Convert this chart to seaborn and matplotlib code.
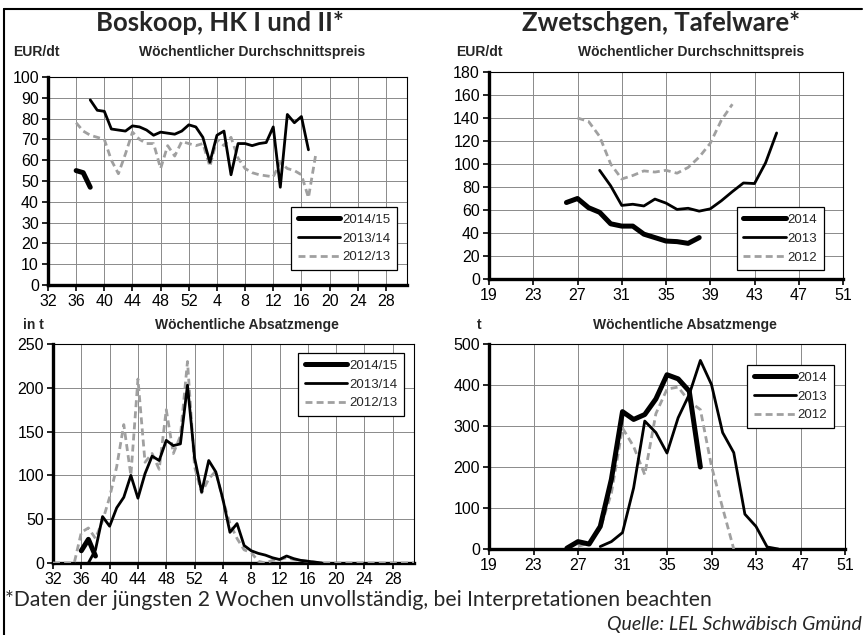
import matplotlib
matplotlib.use('Agg')
import matplotlib.pyplot as plt
import seaborn as sns
import pandas as pd
from matplotlib.lines import Line2D

# ---------------- Daten: Boskoop (Saison KW 32 .. KW 31) ----------------
bos_preis_1415_wochen = [36, 37, 38]
bos_preis_1415 = [55, 54, 47]
bos_preis_1314_wochen = [38, 39, 40, 41, 42, 43, 44, 45, 46, 47, 48, 49, 50, 51, 52,
                         1, 2, 3, 4, 5, 6, 7, 8, 9, 10, 11, 12, 13, 14, 15, 16, 17]
bos_preis_1314 = [89, 84, 83.5, 75, 74.5, 74, 76.5, 76, 74.5, 72, 73.5, 73, 72.5, 74, 77,
                  76, 71, 59, 72, 74, 53, 68, 68, 67, 68, 68.5, 76, 47, 82, 78, 81, 65]
bos_preis_1213_wochen = [36, 37, 38, 39, 40, 41, 42, 43, 44, 45, 46, 47, 48, 49, 50, 51, 52,
                         1, 2, 3, 4, 5, 6, 7, 8, 9, 10, 11, 12, 13, 14, 15, 16, 17, 18]
bos_preis_1213 = [78, 74, 72, 71, 70, 60, 53.5, 63, 73.5, 70, 68, 68, 56, 67, 62, 69, 68,
                  67, 68, 57, 70, 67, 71, 61, 56, 54, 53, 52.5, 52, 59, 56, 55, 53, 42, 62]

bos_menge_1415_wochen = [36, 37, 38]
bos_menge_1415 = [14, 27, 8]
bos_menge_1314_wochen = [37, 38, 39, 40, 41, 42, 43, 44, 45, 46, 47, 48, 49, 50, 51, 52,
                         1, 2, 3, 4, 5, 6, 7, 8, 9, 10, 11, 12, 13, 14, 15, 16, 17, 18]
bos_menge_1314 = [0, 15, 53, 42, 63, 75, 100, 74, 102, 122, 117, 140, 134, 136, 203, 120,
                  81, 117, 104, 73, 35, 45, 20, 14, 11, 9, 6, 4, 8, 5, 3, 2, 1, 0]
bos_menge_1213_wochen = [32, 33, 34, 35, 36, 37, 38, 39, 40, 41, 42, 43, 44, 45, 46, 47, 48,
                         49, 50, 51, 52, 1, 2, 3, 4, 5, 6, 7, 8, 9, 10, 11, 12, 13, 14, 15,
                         16, 17, 18, 19, 20, 21, 22, 23, 24, 25, 26, 27, 28, 29, 30, 31]
bos_menge_1213 = [0, 0, 0, 0, 35, 40, 28, 48, 75, 110, 158, 100, 210, 115, 125, 107, 175,
                  125, 145, 230, 110, 80, 96, 105, 72, 45, 28, 15, 12, 2, 0, 3, 4, 6, 4, 3,
                  2, 1, 0, 0, 0, 0, 0, 0, 0, 0, 0, 0, 0, 0, 0, 0]

# ---------------- Daten: Zwetschgen (KW) ----------------
zw_preis_2014_wochen = [26, 27, 28, 29, 30, 31, 32, 33, 34, 35, 36, 37, 38]
zw_preis_2014 = [66.5, 70, 62, 58, 48, 46, 46, 39, 36, 33, 32.5, 31, 36]
zw_preis_2013_wochen = [29, 30, 31, 32, 33, 34, 35, 36, 37, 38, 39, 40, 41, 42, 43, 44, 45]
zw_preis_2013 = [94.5, 81, 64, 65, 63.5, 69.5, 66, 60.5, 61.5, 59, 61, 68, 76, 83.5, 83, 101, 127]
zw_preis_2012_wochen = [27, 28, 29, 30, 31, 32, 33, 34, 35, 36, 37, 38, 39, 40, 41]
zw_preis_2012 = [140, 137, 124, 100, 87, 90, 94, 93, 94.5, 92, 97, 106, 118, 138, 152]

zw_menge_2014_wochen = [26, 27, 28, 29, 30, 31, 32, 33, 34, 35, 36, 37, 38]
zw_menge_2014 = [2, 18, 12, 55, 170, 335, 316, 328, 366, 425, 415, 385, 200]
zw_menge_2013_wochen = [29, 30, 31, 32, 33, 34, 35, 36, 37, 38, 39, 40, 41, 42, 43, 44, 45]
zw_menge_2013 = [6, 18, 40, 149, 312, 284, 234, 320, 377, 460, 401, 284, 235, 85, 55, 5, 0]
zw_menge_2012_wochen = [27, 28, 29, 30, 31, 32, 33, 34, 35, 36, 37, 38, 39, 40, 41]
zw_menge_2012 = [6, 15, 50, 136, 295, 250, 181, 330, 390, 395, 360, 340, 202, 100, 0]

saison_ticks = [32, 36, 40, 44, 48, 52, 56, 60, 64, 68, 72, 76, 80]
saison_labels = [str((t - 1) % 52 + 1) for t in saison_ticks]
kw_ticks = [19, 23, 27, 31, 35, 39, 43, 47, 51]

sns.set_style('white')
plt.rcParams['font.family'] = ['Liberation Sans', 'DejaVu Sans']

W, H = 865, 635
GRAU = '#a0a0a0'
DASH = (0, (2.5, 1.5))


def saison_pos(wochen):
    # KW 1..31 gehoeren zum Folgejahr der Saison
    return [w if w >= 32 else w + 52 for w in wochen]


def px(x, y):
    return x / W, 1 - y / H


def ax_at(fig, left, top, width, height):
    return fig.add_axes([left / W, 1 - (top + height) / H, width / W, height / H])


def linie(ax, x, y, label, art):
    df = pd.DataFrame({'x': x, 'y': y})
    if art == 'dick':
        sns.lineplot(data=df, x='x', y='y', ax=ax, color='black', linewidth=3.6,
                     label=label, sort=False, zorder=4, solid_joinstyle='round',
                     solid_capstyle='round')
    elif art == 'duenn':
        sns.lineplot(data=df, x='x', y='y', ax=ax, color='black', linewidth=2.0,
                     label=label, sort=False, zorder=3.5, solid_joinstyle='round',
                     solid_capstyle='round')
    else:
        sns.lineplot(data=df, x='x', y='y', ax=ax, color=GRAU, linewidth=2.0,
                     linestyle=DASH, label=label, sort=False, zorder=3)


def gestalten(ax, xlim, xticks, xlabels, ylim, yticks):
    ax.set_xlim(xlim)
    ax.set_ylim(ylim)
    ax.set_xticks(xticks)
    ax.set_xticklabels(xlabels)
    ax.set_yticks(yticks)
    ax.grid(True, color='#8a8a8a', linewidth=0.7)
    ax.set_axisbelow(True)
    for s in ['top', 'right']:
        ax.spines[s].set_linewidth(0.8)
        ax.spines[s].set_color('black')
    for s in ['left', 'bottom']:
        ax.spines[s].set_linewidth(2.4)
        ax.spines[s].set_color('black')
    ax.tick_params(direction='out', length=4, width=1.2, labelsize=11.5, pad=2.5,
                   bottom=True, left=True, colors='black')
    ax.set_xlabel('')
    ax.set_ylabel('')


def legende(ax, loc, anchor):
    handles, labels = ax.get_legend_handles_labels()
    order = [2, 1, 0]
    leg = ax.legend([handles[i] for i in order], [labels[i] for i in order],
                    loc=loc, bbox_to_anchor=anchor, frameon=True, fancybox=False,
                    framealpha=1, edgecolor='black', fontsize=9.5, handlelength=3.2,
                    handletextpad=0.15, labelspacing=0.5, borderpad=0.5,
                    borderaxespad=0)
    leg.get_frame().set_linewidth(0.9)
    leg.set_zorder(6)


fig = plt.figure(figsize=(W / 100, H / 100), dpi=100)

# ---- oben links: Boskoop Preis ----
ax1 = ax_at(fig, 48, 77, 359, 208)
linie(ax1, saison_pos(bos_preis_1213_wochen), bos_preis_1213, '2012/13', 'grau')
linie(ax1, saison_pos(bos_preis_1314_wochen), bos_preis_1314, '2013/14', 'duenn')
linie(ax1, saison_pos(bos_preis_1415_wochen), bos_preis_1415, '2014/15', 'dick')
gestalten(ax1, (32, 83), saison_ticks, saison_labels, (0, 100), range(0, 101, 10))
legende(ax1, 'lower right', (0.972, 0.072))

# ---- oben rechts: Zwetschgen Preis ----
ax2 = ax_at(fig, 489, 72, 354, 207)
linie(ax2, zw_preis_2012_wochen, zw_preis_2012, '2012', 'grau')
linie(ax2, zw_preis_2013_wochen, zw_preis_2013, '2013', 'duenn')
linie(ax2, zw_preis_2014_wochen, zw_preis_2014, '2014', 'dick')
gestalten(ax2, (19, 51), kw_ticks, [str(t) for t in kw_ticks], (0, 180), range(0, 181, 20))
legende(ax2, 'lower right', (0.946, 0.043))

# ---- unten links: Boskoop Menge ----
ax3 = ax_at(fig, 53, 344, 361, 219)
linie(ax3, saison_pos(bos_menge_1213_wochen), bos_menge_1213, '2012/13', 'grau')
linie(ax3, saison_pos(bos_menge_1314_wochen), bos_menge_1314, '2013/14', 'duenn')
linie(ax3, saison_pos(bos_menge_1415_wochen), bos_menge_1415, '2014/15', 'dick')
gestalten(ax3, (32, 83), saison_ticks, saison_labels, (0, 250), range(0, 251, 50))
legende(ax3, 'upper right', (0.972, 0.959))

# ---- unten rechts: Zwetschgen Menge ----
ax4 = ax_at(fig, 489, 344, 356, 205)
linie(ax4, zw_menge_2012_wochen, zw_menge_2012, '2012', 'grau')
linie(ax4, zw_menge_2013_wochen, zw_menge_2013, '2013', 'duenn')
linie(ax4, zw_menge_2014_wochen, zw_menge_2014, '2014', 'dick')
gestalten(ax4, (19, 51), kw_ticks, [str(t) for t in kw_ticks], (0, 500), range(0, 501, 100))
legende(ax4, 'upper right', (0.969, 0.898))

# ---- Texte ----
titel = dict(fontsize=18.5, fontweight='bold', family=['Lato', 'DejaVu Sans'],
             ha='center', va='baseline')
fig.text(*px(220, 31), 'Boskoop, HK I und II*', **titel)
fig.text(*px(661, 31), 'Zwetschgen, Tafelware*', **titel)

klein = dict(fontsize=10, fontweight='bold', va='center')
fig.text(*px(13, 52), 'EUR/dt', ha='left', **klein)
fig.text(*px(252, 52), 'Wöchentlicher Durchschnittspreis', ha='center', **klein)
fig.text(*px(456, 52), 'EUR/dt', ha='left', **klein)
fig.text(*px(691, 52), 'Wöchentlicher Durchschnittspreis', ha='center', **klein)
fig.text(*px(23, 325), 'in t', ha='left', **klein)
fig.text(*px(247, 325), 'Wöchentliche Absatzmenge', ha='center', **klein)
fig.text(*px(477, 325), 't', ha='left', **klein)
fig.text(*px(685, 325), 'Wöchentliche Absatzmenge', ha='center', **klein)

fuss = ['Lato', 'DejaVu Sans']
fig.text(*px(5, 606), '*Daten der jüngsten 2 Wochen unvollständig, bei Interpretationen beachten',
         fontsize=15.2, family=fuss, ha='left', va='baseline')
fig.text(*px(862, 630), 'Quelle: LEL Schwäbisch Gmünd', fontsize=14, family=fuss,
         style='italic', ha='right', va='baseline')

# Rahmen links und oben
fig.add_artist(Line2D([4 / W, 4 / W], [0, 1 - 9 / H], color='black', lw=1.5,
                      transform=fig.transFigure))
fig.add_artist(Line2D([4 / W, 862 / W], [1 - 9 / H, 1 - 9 / H], color='black', lw=1.5,
                      transform=fig.transFigure))

fig.savefig('out.png', dpi=100)
plt.close(fig)
